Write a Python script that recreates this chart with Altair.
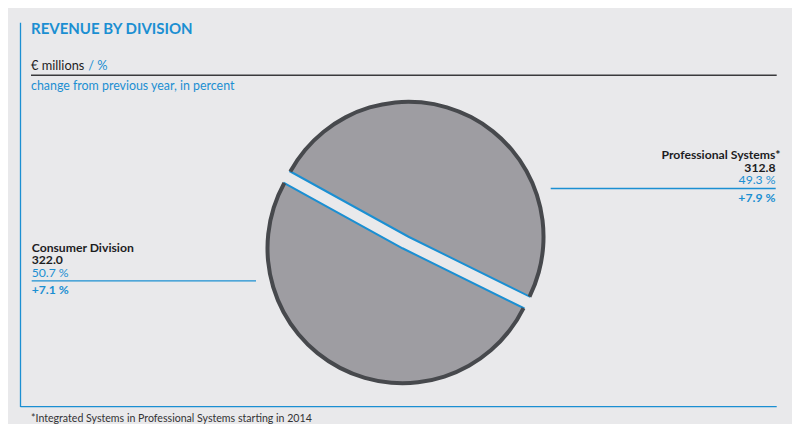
import math

import altair as alt
import pandas as pd

# chart values
divisions = ["Professional Systems*", "Consumer Division"]
revenue = [312.8, 322.0]
share_pct = [49.3, 50.7]
change_pct = [7.9, 7.1]

title_text = "REVENUE BY DIVISION"
unit_text = "€ millions"
unit_pct_text = "/ %"
subtitle_text = "change from previous year, in percent"
footnote_text = "*Integrated Systems in Professional Systems starting in 2014"

df = pd.DataFrame({
    "division": divisions,
    "revenue": revenue,
    "share": share_pct,
    "change": change_pct,
    "order": list(range(len(divisions))),
})

# style
W, H = 784, 416
BG = "#e9e9eb"
BLUE = "#1b8fd2"
DARK = "#1d1d1f"
PIE = "#9e9da2"
RIM = "#47494d"
FONT = "Lato"
CX, CY, R = 397.5, 234.5, 135
EXPLODE = 6.5
ROT = math.radians(298.9)
NB = "\u202f"


def text(s, x, y, size, color, weight="normal", align="left", font=FONT):
    return alt.Chart(pd.DataFrame({"t": [s]})).mark_text(
        align=align, baseline="alphabetic", fontSize=size, font=font,
        fontWeight=weight, color=color
    ).encode(x=alt.value(x), y=alt.value(y), text="t:N")


def rule(x, x2, y, y2, color, width):
    return alt.Chart(pd.DataFrame({"a": [0]})).mark_rule(
        color=color, strokeWidth=width
    ).encode(x=alt.value(x), x2=alt.value(x2), y=alt.value(y), y2=alt.value(y2))


# pie slices, exploded along their mid angle
slices = alt.Chart(df).transform_joinaggregate(
    total="sum(revenue)"
).transform_window(
    cum="sum(revenue)", sort=[alt.SortField("order")], frame=[None, 0]
).transform_calculate(
    t0=f"{ROT} + 2*PI*(datum.cum - datum.revenue)/datum.total",
    t1=f"{ROT} + 2*PI*datum.cum/datum.total",
).transform_calculate(
    px=f"{CX} + {EXPLODE}*sin((datum.t0 + datum.t1)/2)",
    py=f"{CY} - {EXPLODE}*cos((datum.t0 + datum.t1)/2)",
)

enc = dict(
    theta=alt.Theta("t0:Q", scale=None),
    theta2="t1:Q",
    x=alt.X("px:Q", scale=None, axis=None),
    y=alt.Y("py:Q", scale=None, axis=None),
)

pie = slices.mark_arc(radius=R, fill=PIE, stroke=BLUE, strokeWidth=2).encode(**enc)
rim = slices.mark_arc(radius=R + 2, radius2=R - 2, fill=RIM).encode(**enc)


# division labels
def division_labels(name, x, align, y0, line_x, line_x2, name_x=None):
    base = alt.Chart(df).transform_filter(
        alt.datum.division == name
    ).transform_calculate(
        rev="format(datum.revenue, '.1f')",
        sh=f"format(datum.share, '.1f') + '{NB}%'",
        ch=f"'+' + format(datum.change, '.1f') + '{NB}%'",
    )
    common = dict(align=align, baseline="alphabetic", fontSize=12.2, font=FONT)
    nx = name_x if name_x is not None else x
    name_t = base.mark_text(color=DARK, fontWeight="bold", **common).encode(
        x=alt.value(nx), y=alt.value(y0), text="division:N")
    rev_t = base.mark_text(color=DARK, fontWeight="bold", **common).encode(
        x=alt.value(x), y=alt.value(y0 + 12.4), text="rev:N")
    sh_t = base.mark_text(color=BLUE, **common).encode(
        x=alt.value(x), y=alt.value(y0 + 24.8), text="sh:N")
    ch_t = base.mark_text(color=BLUE, fontWeight="bold", **common).encode(
        x=alt.value(x), y=alt.value(y0 + 42.6), text="ch:N")
    line = rule(line_x, line_x2, y0 + 29.2, y0 + 29.2, BLUE, 1.3)
    return [name_t, rev_t, sh_t, ch_t, line]


right = division_labels("Professional Systems*", 767.5, "right", 151.3, 542.7, 767.7, name_x=772.5)
left = division_labels("Consumer Division", 23.7, "left", 243.7, 23.7, 248)

frame = [
    rule(12.5, 12.5, 14.7, 399, BLUE, 1.3),
    rule(12.5, 768.7, 398.7, 398.7, BLUE, 1.3),
    rule(23, 768.7, 67.3, 67.3, "#3a3a3c", 1.4),
]

texts = [
    text(title_text, 23, 26, 15, BLUE, weight="bold"),
    text(unit_text, 23, 62, 12.8, DARK),
    text(unit_pct_text, 80.3, 62, 12.8, BLUE),
    text(subtitle_text, 23, 82, 12.4, BLUE),
    text(footnote_text, 23, 413.5, 10.6, "#333335"),
]

chart = alt.layer(pie, rim, *frame, *texts, *right, *left).properties(
    width=W,
    height=H,
    background=BG,
    padding=0,
    autosize=alt.AutoSizeParams(type="none"),
).configure_view(stroke=None)

chart.save("out.html", embed_options={"renderer": "svg", "actions": False})
